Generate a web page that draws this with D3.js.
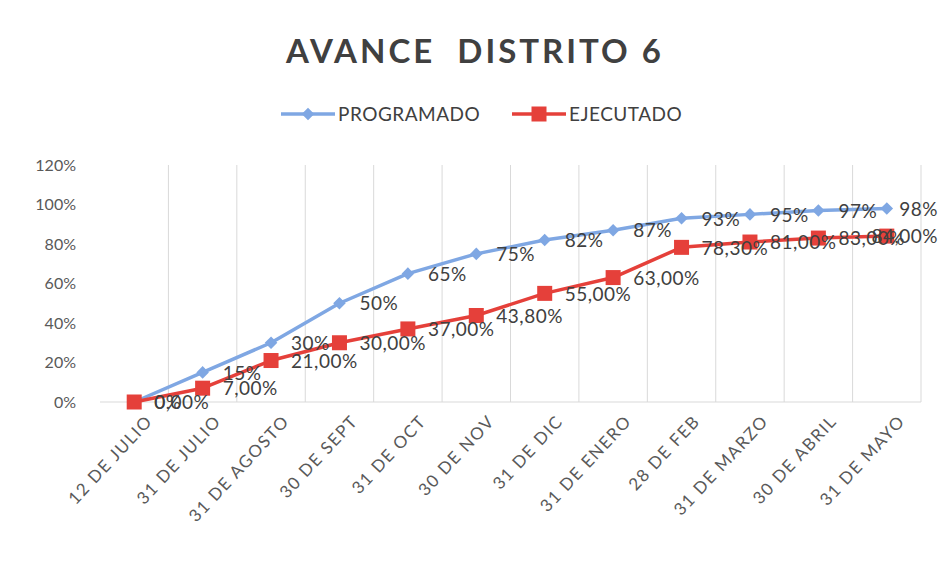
<!DOCTYPE html>
<html>
<head>
<meta charset="utf-8">
<script src="https://cdn.jsdelivr.net/npm/d3@7"></script>
<style>
  body { margin: 0; background: #fff; }
  text { font-family: Lato, "Open Sans", sans-serif; }
</style>
</head>
<body>
<svg class="chart"></svg>
<script>
// avance distrito 6, programado vs ejecutado

var categories = ["12 DE JULIO", "31 DE JULIO", "31 DE AGOSTO", "30 DE SEPT", "31 DE OCT", "30 DE NOV",
  "31 DE DIC", "31 DE ENERO", "28 DE FEB", "31 DE MARZO", "30 DE ABRIL", "31 DE MAYO"];
var programado = [0, 15, 30, 50, 65, 75, 82, 87, 93, 95, 97, 98];
var ejecutado = [0, 7, 21, 30, 37, 43.8, 55, 63, 78.3, 81, 83, 84];
var programadoLabels = ["0%", "15%", "30%", "50%", "65%", "75%", "82%", "87%", "93%", "95%", "97%", "98%"];
var ejecutadoLabels = ["0,00%", "7,00%", "21,00%", "30,00%", "37,00%", "43,80%", "55,00%", "63,00%",
  "78,30%", "81,00%", "83,00%", "84,00%"];
var yTicks = [0, 20, 40, 60, 80, 100, 120];

var ui = {
  width: 939,
  height: 563,
  left: 100,
  right: 921,
  top: 165,
  bottom: 402,
  blue: "#7fa7e3",
  red: "#e5403a",
  text: "#404040",
  grid: "#d9d9d9"
};

var chart = d3.select(".chart")
  .attr("width", ui.width)
  .attr("height", ui.height);

var x = d3.scaleBand().domain(categories).range([ui.left, ui.right]);
var y = d3.scaleLinear().domain([0, 120]).range([ui.bottom, ui.top]);
function cx(i) { return x(categories[i]) + x.bandwidth() / 2; }

// title
chart.append("text")
  .attr("x", 475).attr("y", 63)
  .attr("text-anchor", "middle")
  .style("font-size", "33px").style("font-weight", "bold")
  .style("letter-spacing", "3px")
  .style("fill", ui.text)
  .style("white-space", "pre")
  .text("AVANCE  DISTRITO 6");

// vertical grid lines at category boundaries
var bounds = categories.map(function(c) { return x(c) + x.bandwidth(); });
chart.selectAll(".vgrid")
  .data(bounds)
  .enter().append("line")
  .attr("class", "vgrid")
  .attr("x1", function(d) { return d; }).attr("x2", function(d) { return d; })
  .attr("y1", ui.top).attr("y2", ui.bottom)
  .style("stroke", ui.grid).style("stroke-width", 1);

// x axis line
chart.append("line")
  .attr("x1", ui.left).attr("x2", ui.right)
  .attr("y1", ui.bottom).attr("y2", ui.bottom)
  .style("stroke", ui.grid).style("stroke-width", 1);

// y axis
var yAxis = chart.append("g")
  .attr("transform", "translate(" + (ui.left - 21) + ",0)")
  .call(d3.axisLeft(y).tickValues(yTicks).tickSize(0).tickFormat(function(d) { return d + "%"; }));
yAxis.select(".domain").remove();
yAxis.selectAll("text")
  .style("font-family", "Lato, sans-serif")
  .style("font-size", "16px")
  .style("fill", "#595959");

// x labels, rotated
var xAxis = chart.append("g")
  .attr("transform", "translate(0," + ui.bottom + ")")
  .call(d3.axisBottom(x).tickSize(0));
xAxis.select(".domain").remove();
xAxis.selectAll("text")
  .style("font-family", "Lato, sans-serif")
  .style("font-size", "17px")
  .style("letter-spacing", "1.5px")
  .style("fill", "#595959")
  .attr("text-anchor", "end")
  .attr("transform", "translate(15,16) rotate(-47)")
  .attr("dx", 0).attr("dy", "0.35em").attr("y", 0);

var line = d3.line()
  .x(function(d, i) { return cx(i); })
  .y(function(d) { return y(d); });

// programado
chart.append("path")
  .datum(programado)
  .attr("d", line)
  .style("fill", "none").style("stroke", ui.blue).style("stroke-width", 3.5)
  .style("stroke-linejoin", "round");
chart.selectAll(".diamond")
  .data(programado)
  .enter().append("path")
  .attr("class", "diamond")
  .attr("d", d3.symbol().type(d3.symbolDiamond2).size(100))
  .attr("transform", function(d, i) { return "translate(" + cx(i) + "," + y(d) + ")"; })
  .style("fill", ui.blue);

// ejecutado
chart.append("path")
  .datum(ejecutado)
  .attr("d", line)
  .style("fill", "none").style("stroke", ui.red).style("stroke-width", 3.5)
  .style("stroke-linejoin", "round");
chart.selectAll(".square")
  .data(ejecutado)
  .enter().append("rect")
  .attr("class", "square")
  .attr("x", function(d, i) { return cx(i) - 7.5; })
  .attr("y", function(d) { return y(d) - 7.5; })
  .attr("width", 15).attr("height", 15)
  .style("fill", ui.red);

// data labels right of points, pulled back inside the right edge like excel does
function fitRight() {
  var w = this.getComputedTextLength();
  var lx = +d3.select(this).attr("x");
  if (lx + w > ui.width - 1) d3.select(this).attr("x", ui.width - 1 - w);
}
chart.selectAll(".plabel")
  .data(programado)
  .enter().append("text")
  .attr("class", "plabel")
  .attr("x", function(d, i) { return cx(i) + 20; })
  .attr("y", function(d) { return y(d); })
  .attr("dy", "0.38em")
  .style("font-size", "19px").style("letter-spacing", "0.5px").style("fill", ui.text)
  .text(function(d, i) { return programadoLabels[i]; })
  .each(fitRight);
chart.selectAll(".elabel")
  .data(ejecutado)
  .enter().append("text")
  .attr("class", "elabel")
  .attr("x", function(d, i) { return cx(i) + 20; })
  .attr("y", function(d) { return y(d); })
  .attr("dy", "0.38em")
  .style("font-size", "19px").style("letter-spacing", "0.5px").style("fill", ui.text)
  .text(function(d, i) { return ejecutadoLabels[i]; })
  .each(fitRight);

// legend
var legend = [
  { name: "PROGRAMADO", color: ui.blue, x: 281, shape: "diamond" },
  { name: "EJECUTADO", color: ui.red, x: 512, shape: "square" }
];
var lg = chart.selectAll(".legend")
  .data(legend)
  .enter().append("g")
  .attr("class", "legend")
  .attr("transform", function(d) { return "translate(" + d.x + ",114)"; });
lg.append("line")
  .attr("x1", 0).attr("x2", 54).attr("y1", 0).attr("y2", 0)
  .style("stroke", function(d) { return d.color; }).style("stroke-width", 3.5);
lg.filter(function(d) { return d.shape == "diamond"; }).append("path")
  .attr("d", d3.symbol().type(d3.symbolDiamond2).size(100))
  .attr("transform", "translate(27,0)")
  .style("fill", function(d) { return d.color; });
lg.filter(function(d) { return d.shape == "square"; }).append("rect")
  .attr("x", 19.5).attr("y", -7.5).attr("width", 15).attr("height", 15)
  .style("fill", function(d) { return d.color; });
lg.append("text")
  .attr("x", 57).attr("y", 0).attr("dy", "0.36em")
  .style("font-size", "19px").style("letter-spacing", "0.5px").style("fill", ui.text)
  .text(function(d) { return d.name; });
</script>
</body>
</html>
